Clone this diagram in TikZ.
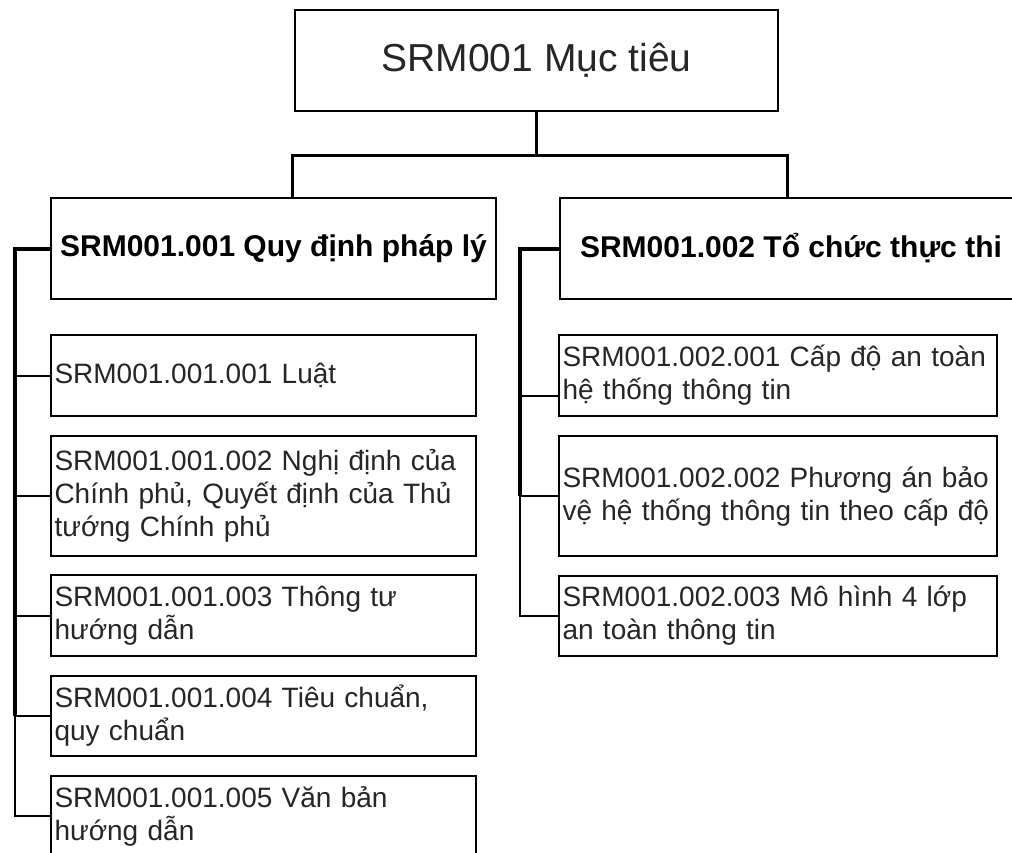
\documentclass[tikz,border=0pt]{standalone}
\usepackage{fontspec}
\setmainfont{Liberation Sans}
\begin{document}
\begin{tikzpicture}[x=1pt,y=-1pt,
  box/.style={draw=black, line width=1.5pt, rectangle, inner sep=0pt},
  topbox/.style={box, minimum width=483pt, minimum height=101pt, font=\fontsize{39}{47}\selectfont, text=black!85},
  childbox/.style={box, minimum height=101pt, font=\fontsize{30}{36}\selectfont\bfseries, text=black},
  leafL/.style={box, minimum height=#1, text width=418pt, inner xsep=3.5pt, inner ysep=0pt, align=left, font=\fontsize{28}{33}\selectfont, text=black!85},
  leafR/.style={box, minimum height=#1, text width=431pt, inner xsep=3.5pt, inner ysep=0pt, align=left, font=\fontsize{28}{33}\selectfont, text=black!85},
  topedge/.style={draw=black, line width=3pt},
  trunk/.style={draw=black, line width=4pt},
  leafedge/.style={draw=black, line width=2pt}
]
\clip (0,0) rectangle (1012,852);
\fill[white] (0,0) rectangle (1012,852);

% nodes
\node[topbox] (top) at (536.5,60.5) {SRM001 Mục tiêu};
\node[childbox, minimum width=445pt] (c1) at (273.5,248.5) {SRM001.001 Quy định pháp lý};
\node[childbox, minimum width=462pt] (c2) at (791,248.5) {SRM001.002 Tổ chức thực thi};

\node[leafL=81pt] (L1) at (263.5,375.5) {SRM001.001.001 Luật};
\node[leafL=120pt] (L2) at (263.5,496) {SRM001.001.002 Nghị định của\\Chính phủ, Quyết định của Thủ\\tướng Chính phủ};
\node[leafL=81pt] (L3) at (263.5,615.5) {SRM001.001.003 Thông tư\\hướng dẫn};
\node[leafL=80pt] (L4) at (263.5,716) {SRM001.001.004 Tiêu chuẩn,\\quy chuẩn};
\node[leafL=80pt] (L5) at (263.5,816) {SRM001.001.005 Văn bản\\hướng dẫn};

\node[leafR=81pt] (R1) at (778,375.5) {SRM001.002.001 Cấp độ an toàn\\hệ thống thông tin};
\node[leafR=120pt] (R2) at (778,496) {SRM001.002.002 Phương án bảo\\vệ hệ thống thông tin theo cấp độ};
\node[leafR=80pt] (R3) at (778,616) {SRM001.002.003 Mô hình 4 lớp\\an toàn thông tin};

% top connectors
\coordinate (j) at (536.5,155);
\draw[topedge] (top.south) -- (j);
\draw[topedge] (j) -| ([xshift=18.5pt]c1.north);
\draw[topedge] (j) -| ([xshift=-4pt]c2.north);

% left branch
\coordinate (tl) at (15,0);
\draw[trunk] (c1.west) -- (c1.west -| tl) -- (tl |- L4.west);
\foreach \n in {L1,L2,L3,L4,L5}
  \draw[leafedge] (c1.west -| tl) |- (\n.west);

% right branch
\coordinate (tr) at (520,0);
\draw[trunk] (c2.west) -- (c2.west -| tr) -- (tr |- R2.west);
\draw[leafedge] (c2.west -| tr) |- ([yshift=-20pt]R1.west);
\draw[leafedge] (c2.west -| tr) |- (R2.west);
\draw[leafedge] (c2.west -| tr) |- (R3.west);
\end{tikzpicture}
\end{document}
